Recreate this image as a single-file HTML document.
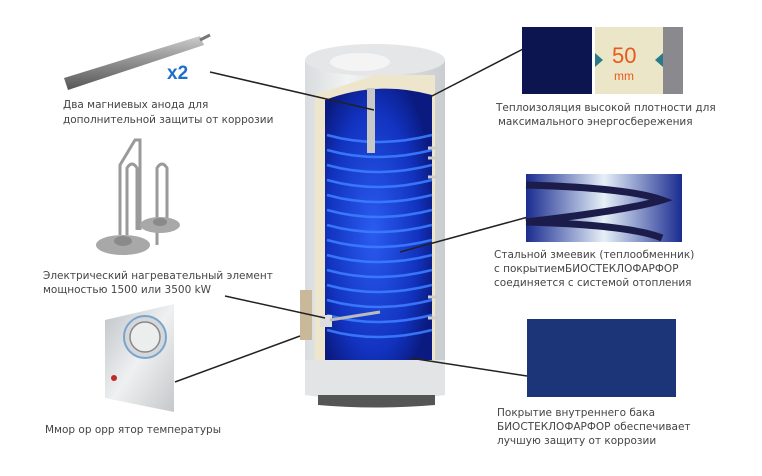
<!DOCTYPE html>
<html><head><meta charset="utf-8"><style>
body{margin:0;background:#fff;width:762px;height:476px;overflow:hidden}
svg{display:block}
text{font-family:"DejaVu Sans","Liberation Sans",sans-serif;font-size:10.5px;fill:#444}
</style></head><body>
<svg width="762" height="476" viewBox="0 0 762 476">
<defs>
<linearGradient id="rod" x1="0" y1="0" x2="0" y2="1"><stop offset="0" stop-color="#ccc"/><stop offset=".4" stop-color="#999"/><stop offset="1" stop-color="#555"/></linearGradient>
<linearGradient id="shell" x1="0" x2="1"><stop offset="0" stop-color="#d8dcde"/><stop offset=".3" stop-color="#f2f3f3"/><stop offset="1" stop-color="#c9cdd0"/></linearGradient>
<radialGradient id="blue" cx=".45" cy=".5" r=".6"><stop offset="0" stop-color="#2a5cf0"/><stop offset=".7" stop-color="#1233c0"/><stop offset="1" stop-color="#0a1a80"/></radialGradient>
<linearGradient id="coilbg" x1="0" x2="1"><stop offset="0" stop-color="#1a2c90"/><stop offset=".5" stop-color="#e6f0f8"/><stop offset="1" stop-color="#1a2c90"/></linearGradient>
<linearGradient id="panel" x1="0" x2="1" y1="0" y2="1"><stop offset="0" stop-color="#bfc3c6"/><stop offset=".5" stop-color="#eef0f1"/><stop offset="1" stop-color="#c5c8ca"/></linearGradient>
</defs>
<!-- anode -->
<polygon points="64,78 200,36 204,45 68,90" fill="url(#rod)"/>
<line x1="200" y1="40" x2="210" y2="35" stroke="#777" stroke-width="3"/>
<text x="167" y="79" style="font-size:19px;font-weight:bold;fill:#1f6fc8;font-family:'Liberation Sans',sans-serif">x2</text>
<text x="63" y="108">Два магниевых анода для</text>
<text x="63" y="123">дополнительной защиты от коррозии</text>
<!-- heating elements -->
<g fill="none" stroke="#9a9a9a" stroke-width="3">
<path d="M120,235 V165 L135,140 H140 V230"/><path d="M127,235 V168 q5,-8 10,0 V230"/>
<path d="M157,245 V168 q5,-8 10,0 V220"/>
</g>
<ellipse cx="123" cy="245" rx="27" ry="10" fill="#a8a8a8"/><ellipse cx="123" cy="241" rx="9" ry="5" fill="#8a8a8a"/>
<ellipse cx="160" cy="225" rx="20" ry="8" fill="#a8a8a8"/><ellipse cx="160" cy="222" rx="7" ry="4" fill="#8a8a8a"/>
<text x="43" y="279">Электрический нагревательный элемент</text>
<text x="43" y="293">мощностью 1500 или 3500 kW</text>
<!-- panel -->
<polygon points="105,320 174,304 174,412 105,398" fill="url(#panel)"/>
<circle cx="145" cy="337" r="21" fill="#d5d8da" stroke="#7aa4cc" stroke-width="2"/>
<circle cx="145" cy="337" r="15" fill="#eceeee" stroke="#888" stroke-width="1.5"/>
<circle cx="114" cy="378" r="3" fill="#c0282c"/>
<text x="45" y="433">Ммор ор       орр ятор температуры</text>
<!-- tank -->
<rect x="305" y="60" width="140" height="335" fill="url(#shell)"/>
<ellipse cx="375" cy="60" rx="70" ry="16" fill="#e4e6e7"/>
<ellipse cx="360" cy="62" rx="30" ry="9" fill="#f4f4f4"/>
<polygon points="315,95 375,75 435,75 435,385 315,385" fill="#eee6cc"/>
<path d="M325,100 Q378,80 432,95 V365 Q378,385 325,365 Z" fill="url(#blue)"/>
<g fill="none" stroke="#3c7cff" stroke-width="2.5" opacity=".9">
<path d="M327,135 q50,14 105,0"/><path d="M327,150 q50,14 105,0"/><path d="M327,165 q50,14 105,0"/><path d="M327,180 q50,14 105,0"/><path d="M327,195 q50,14 105,0"/><path d="M327,210 q50,14 105,0"/><path d="M327,225 q50,14 105,0"/><path d="M327,240 q50,14 105,0"/><path d="M327,255 q50,14 105,0"/><path d="M327,270 q50,14 105,0"/><path d="M327,285 q50,14 105,0"/><path d="M327,300 q50,14 105,0"/><path d="M327,315 q50,14 105,0"/><path d="M327,330 q50,14 105,0"/>
</g>
<rect x="367" y="88" width="8" height="65" fill="#c8c8c8"/>
<rect x="300" y="290" width="12" height="50" fill="#c9b99a"/>
<rect x="320" y="315" width="12" height="12" fill="#ddd"/>
<line x1="330" y1="320" x2="380" y2="312" stroke="#bbb" stroke-width="3"/>
<g stroke="#ccc" stroke-width="3"><line x1="428" y1="148" x2="438" y2="148"/><line x1="428" y1="158" x2="438" y2="158"/><line x1="428" y1="177" x2="438" y2="177"/><line x1="428" y1="297" x2="438" y2="297"/><line x1="428" y1="318" x2="438" y2="318"/></g>
<path d="M305,360 H445 V395 Q375,405 305,395 Z" fill="#e2e4e5"/>
<path d="M318,395 H435 V405 Q375,410 318,405 Z" fill="#555"/>
<!-- connectors -->
<g stroke="#222" stroke-width="1.5"><line x1="210" y1="72" x2="374" y2="110"/><line x1="225" y1="296" x2="325" y2="318"/><line x1="175" y1="382" x2="300" y2="336"/>
<line x1="430" y1="97" x2="525" y2="48"/><line x1="400" y1="252" x2="528" y2="217"/><line x1="410" y1="358" x2="527" y2="376"/></g>
<!-- right images -->
<rect x="522" y="27" width="70" height="67" fill="#0d1550"/>
<rect x="595" y="27" width="68" height="67" fill="#ece6c8"/>
<rect x="663" y="27" width="20" height="67" fill="#8a8a8e"/>
<polygon points="595,53 603,60 595,67" fill="#2a7a8a"/><polygon points="663,53 655,60 663,67" fill="#2a7a8a"/>
<text x="612" y="63" style="font-size:22px;fill:#e85a1a;font-family:'Liberation Sans',sans-serif">50</text>
<text x="614" y="80" style="font-size:12px;fill:#e85a1a;font-family:'Liberation Sans',sans-serif">mm</text>
<text x="496" y="111">Теплоизоляция высокой плотности для</text>
<text x="498" y="125">максимального энергосбережения</text>
<rect x="526" y="174" width="156" height="68" fill="url(#coilbg)"/>
<g fill="none" stroke="#1c1c4a" stroke-width="7"><path d="M526,185 Q630,188 662,200 Q630,210 526,222"/><path d="M526,222 Q630,225 662,238"/></g>
<text x="494" y="258">Стальной змеевик (теплообменник)</text>
<text x="494" y="272">с покрытиемБИОСТЕКЛОФАРФОР</text>
<text x="494" y="286">соединяется с системой отопления</text>
<rect x="527" y="319" width="149" height="78" fill="#1b3578"/>
<text x="497" y="416">Покрытие внутреннего бака</text>
<text x="497" y="430">БИОСТЕКЛОФАРФОР  обеспечивает</text>
<text x="497" y="444">лучшую защиту от коррозии</text>
</svg>
</body></html>
